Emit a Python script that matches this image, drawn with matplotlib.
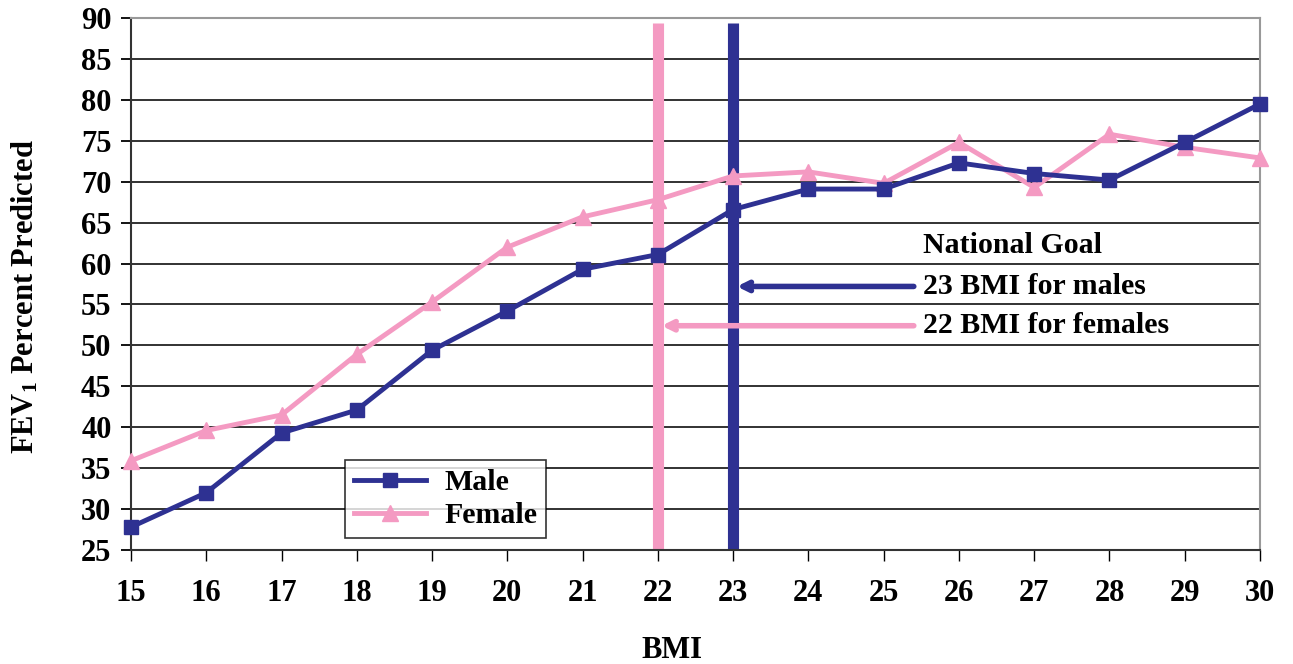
import matplotlib
matplotlib.use("Agg")
import matplotlib.pyplot as plt

bmi = list(range(15, 31))
male = [27.8, 32.0, 39.3, 42.1, 49.4, 54.2, 59.3, 61.1, 66.6, 69.1, 69.1, 72.3, 71.0, 70.2, 74.8, 79.5]
female = [35.9, 39.6, 41.5, 48.9, 55.3, 62.0, 65.7, 67.8, 70.7, 71.2, 69.8, 74.8, 69.3, 75.8, 74.2, 72.9]
goal_male = 23
goal_female = 22
yticks = list(range(25, 95, 5))

NAVY = "#2E3192"
PINK = "#F49AC2"

plt.rcParams['font.family'] = ['Liberation Serif', 'DejaVu Serif']
plt.rcParams['font.weight'] = 'bold'
plt.rcParams['mathtext.fontset'] = 'custom'
plt.rcParams['mathtext.rm'] = 'Liberation Serif:bold'
plt.rcParams['mathtext.it'] = 'Liberation Serif:bold'
plt.rcParams['mathtext.bf'] = 'Liberation Serif:bold'
plt.rcParams['mathtext.default'] = 'rm'

fig = plt.figure(figsize=(12.93, 6.64), dpi=100)
ax = fig.add_axes([0.1013, 0.1717, 0.8732, 0.8012])

ax.set_xlim(15, 30)
ax.set_ylim(25, 90)
ax.set_yticks(yticks)
ax.set_xticks(bmi)
for y in yticks:
    ax.axhline(y, color="#222222", lw=1.3, zorder=1)

ax.axvline(goal_female, ymin=0, ymax=0.99, color=PINK, lw=8, zorder=2, solid_capstyle='butt')
ax.axvline(goal_male, ymin=0, ymax=0.99, color=NAVY, lw=8, zorder=2, solid_capstyle='butt')

ax.plot(bmi, male, color=NAVY, lw=3.5, marker='s', ms=10, label='Male', zorder=4, clip_on=False)
ax.plot(bmi, female, color=PINK, lw=3.5, marker='^', ms=12, label='Female', zorder=3, clip_on=False)

ax.annotate("", xy=(goal_male + 0.05, 57.2), xytext=(25.4, 57.2),
            arrowprops=dict(arrowstyle="->,head_length=0.6,head_width=0.3", color=NAVY, lw=4,
                            shrinkA=0, shrinkB=0), zorder=5)
ax.annotate("", xy=(goal_female + 0.05, 52.4), xytext=(25.4, 52.4),
            arrowprops=dict(arrowstyle="->,head_length=0.6,head_width=0.3", color=PINK, lw=4,
                            shrinkA=0, shrinkB=0), zorder=5)
ax.text(25.52, 62.2, "National Goal", fontsize=21.5, fontweight='bold', va='center', ha='left')
ax.text(25.52, 57.2, "23 BMI for males", fontsize=21.5, fontweight='bold', va='center', ha='left')
ax.text(25.52, 52.4, "22 BMI for females", fontsize=21.5, fontweight='bold', va='center', ha='left')

for s in ['top', 'right']:
    ax.spines[s].set_color('#999999')
    ax.spines[s].set_linewidth(1.5)
for s in ['left', 'bottom']:
    ax.spines[s].set_color('#333333')
    ax.spines[s].set_linewidth(1.5)

ax.tick_params(axis='y', direction='out', length=7, width=1.3, labelsize=22, pad=7)
ax.tick_params(axis='x', direction='out', length=8, width=1, labelsize=22, pad=13)
for lab in ax.get_xticklabels() + ax.get_yticklabels():
    lab.set_fontweight('bold')

fig.text(672 / 1293, 1 - 650 / 664, "BMI", fontsize=22, fontweight='bold', ha='center', va='center')
fig.text(25 / 1293, 1 - 297 / 664, "FEV$_1$ Percent Predicted", fontsize=22, fontweight='bold',
         ha='center', va='center', rotation=90)

leg = ax.legend(loc='lower left', bbox_to_anchor=(0.19, 0.022), fontsize=21.5, frameon=True,
                fancybox=False, edgecolor='black', handlelength=2.4, handletextpad=0.6,
                borderpad=0.3, labelspacing=0.2, borderaxespad=0)
leg.get_frame().set_linewidth(1.2)
leg.set_zorder(6)

fig.savefig("out.png", dpi=100)
